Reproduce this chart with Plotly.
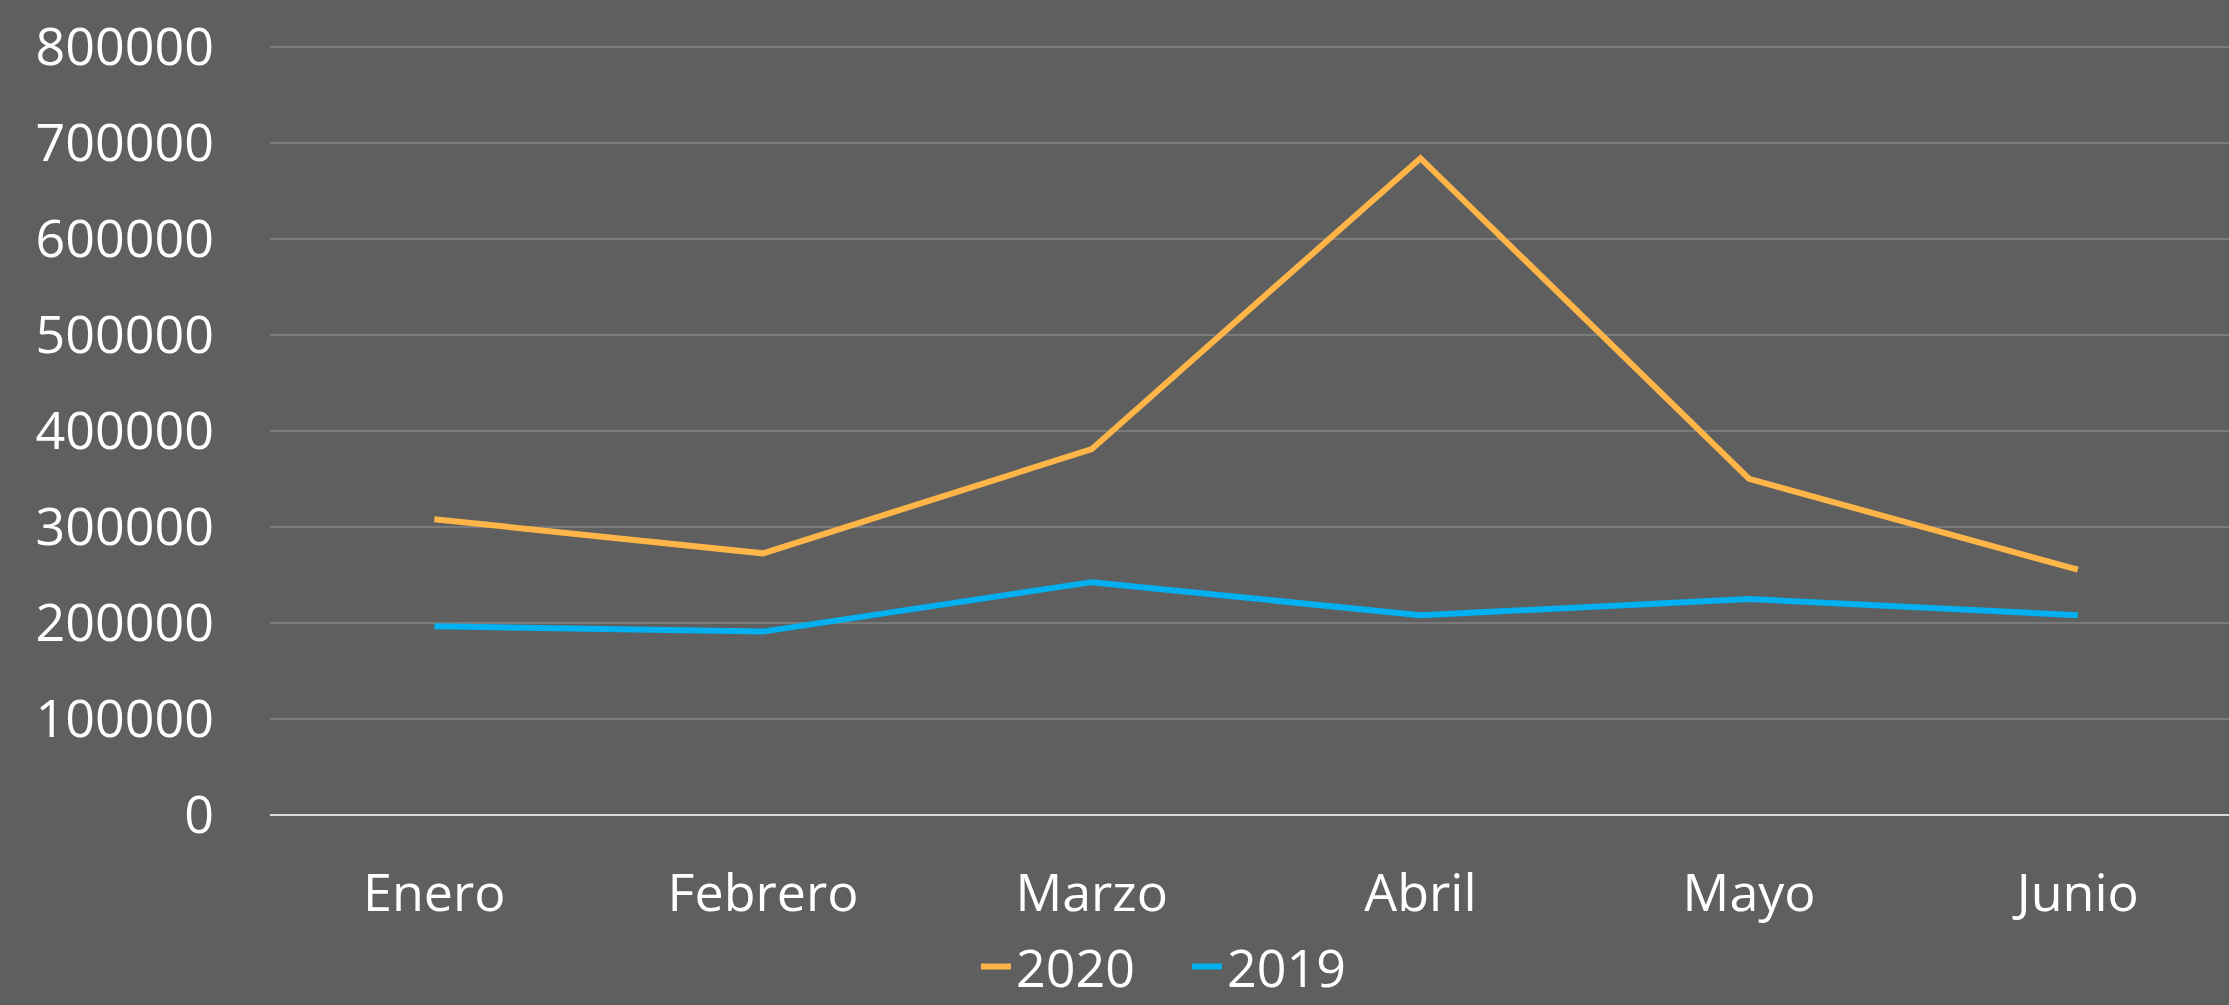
import plotly.graph_objects as go

# ── Data ─────────────────────────────────────────────────────────────────────
MESES = ["Enero", "Febrero", "Marzo", "Abril", "Mayo", "Junio"]
VENTAS_2020 = [308000, 272500, 381000, 684000, 350000, 255500]
VENTAS_2019 = [196500, 191000, 242500, 208000, 225000, 208000]
Y_TICKS = [0, 100000, 200000, 300000, 400000, 500000, 600000, 700000, 800000]

# ── Design tokens ────────────────────────────────────────────────────────────
BG = "#5f5f5f"
GRID = "#7b7b7b"
ZERO = "#d9d9d9"
TEXT = "#ffffff"
ORANGE = "#ffb547"
BLUE = "#00b0f0"
FONT = "Open Sans, sans-serif"

fig = go.Figure()
fig.add_trace(go.Scatter(
    x=MESES, y=VENTAS_2020, name="2020", mode="lines",
    line=dict(color=ORANGE, width=6),
))
fig.add_trace(go.Scatter(
    x=MESES, y=VENTAS_2019, name="2019", mode="lines",
    line=dict(color=BLUE, width=6),
))

fig.update_layout(
    width=2229, height=1005,
    paper_bgcolor=BG, plot_bgcolor=BG,
    font=dict(family=FONT, color=TEXT, size=52),
    margin=dict(l=270, r=0, t=43, b=190, autoexpand=False),
    showlegend=True,
    legend=dict(
        orientation="h", xanchor="center", yanchor="middle",
        xref="container", yref="container",
        x=0.5325, y=0.038,
        bgcolor="rgba(0,0,0,0)",
        font=dict(size=52, color=TEXT),
        itemwidth=30,
        entrywidth=166,
    ),
    xaxis=dict(
        range=[-0.5, 5.46], automargin=False,
        showgrid=False, zeroline=False, showline=False,
        ticks="", ticklabelstandoff=43,
        tickfont=dict(size=52, color=TEXT),
    ),
    yaxis=dict(
        range=[0, 804000], automargin=False,
        tickvals=Y_TICKS, ticktext=[str(v) for v in Y_TICKS],
        gridcolor=GRID, gridwidth=2,
        zeroline=True, zerolinecolor=ZERO, zerolinewidth=2,
        showline=False, ticks="", ticklabelstandoff=55,
        tickfont=dict(size=52, color=TEXT),
    ),
)

fig.write_html(
    "out.html",
    config={"displayModeBar": False},
    post_script="document.body.style.margin='0';document.body.style.overflow='hidden';",
)
